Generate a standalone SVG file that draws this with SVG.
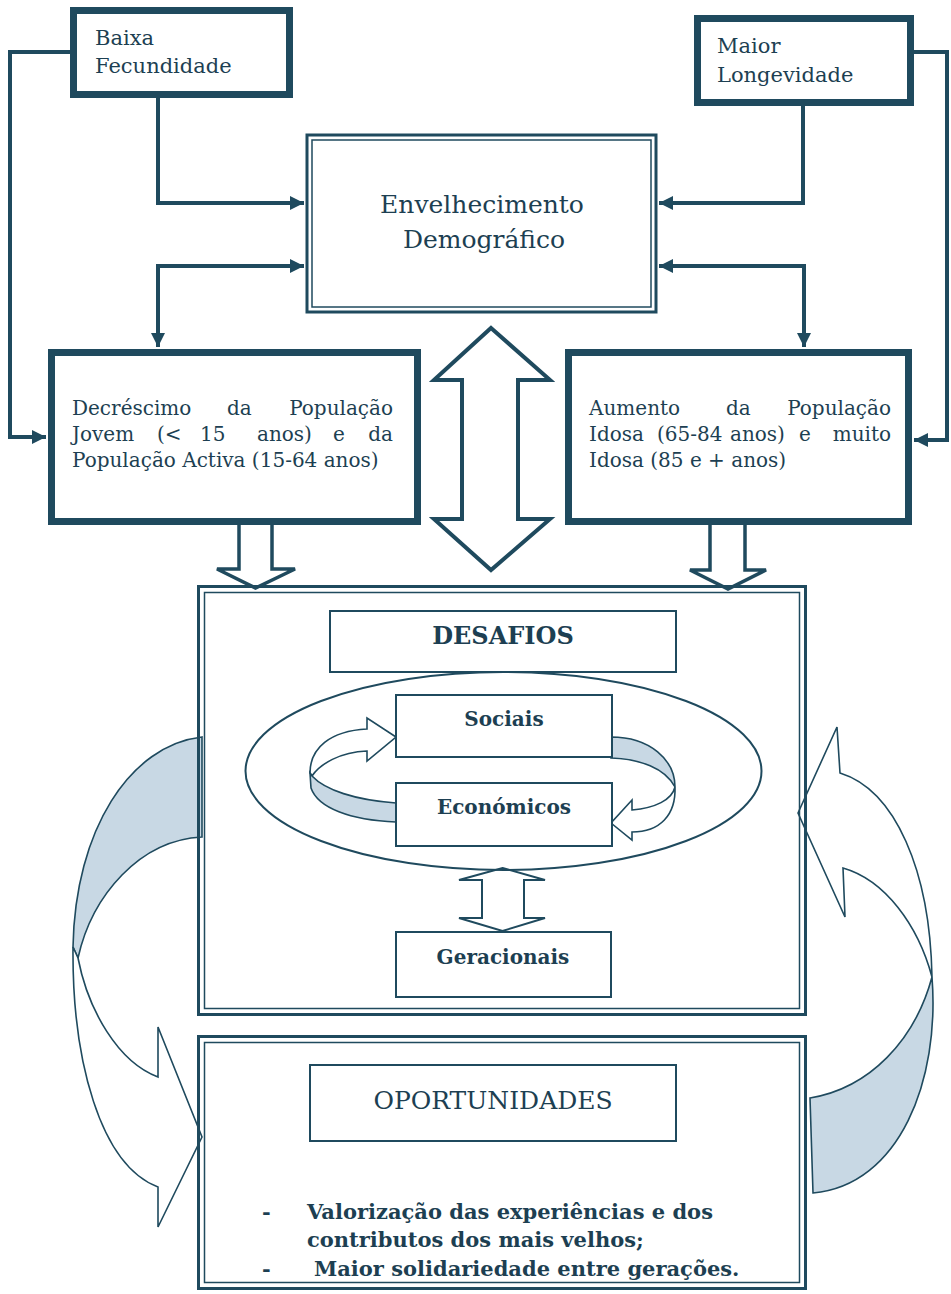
<svg xmlns="http://www.w3.org/2000/svg" width="951" height="1294" viewBox="0 0 951 1294">
<style>
.txt{font-family:'DejaVu Serif','Liberation Serif',serif;fill:#1d3f52;}
.reg{font-size:20px;}
.b{font-weight:bold;}
.thick{fill:#fff;stroke:#1f4a5e;stroke-width:7;}
.thin{fill:#fff;stroke:#1f4a5e;stroke-width:2;}
.dbl-o{fill:#fff;stroke:#1f4a5e;stroke-width:3;}
.dbl-i{fill:none;stroke:#1f4a5e;stroke-width:1.5;}
.con{fill:none;stroke:#1f4a5e;stroke-width:4;}
.hollow{fill:#fff;stroke:#1f4a5e;stroke-linejoin:miter;}
.shade{fill:#c8d8e4;stroke:#1f4a5e;stroke-width:1.6;}
.white{fill:#fff;stroke:#1f4a5e;stroke-width:1.6;}
</style>
<defs>
<marker id="ah" markerUnits="userSpaceOnUse" markerWidth="16" markerHeight="14" refX="14" refY="7" orient="auto-start-reverse">
<path d="M0,0 L14,7 L0,14 Z" fill="#1f4a5e"/>
</marker>
</defs>
<rect width="951" height="1294" fill="#fff"/>

<g id="connectors">
<path class="con" d="M70,52 H10 V437 H46" marker-end="url(#ah)"/>
<path class="con" d="M158,98 V203 H304" marker-end="url(#ah)"/>
<path class="con" d="M914,52 H947 V440 H914" marker-end="url(#ah)"/>
<path class="con" d="M803,106 V203 H659" marker-end="url(#ah)"/>
<path class="con" d="M304,266 H158 V347" marker-start="url(#ah)" marker-end="url(#ah)"/>
<path class="con" d="M659,266 H804 V347" marker-start="url(#ah)" marker-end="url(#ah)"/>
<path class="hollow" stroke-width="3.5" d="M239,522 V569 H217 L255.5,588 L295,569 H272 V522 Z"/>
<path class="hollow" stroke-width="3.5" d="M710,522 V570 H690 L728,589 L766,570 H745 V522 Z"/>
<path class="hollow" stroke-width="4" d="M491,328 L550,380 H518 V519 H550 L491,570 L434,519 H462 V380 H434 Z"/>
<path class="hollow" stroke-width="2" d="M502.5,868 L545,880 H524 V918 H545 L502.5,931 L459,918 H482 V880 H459 Z"/>
<path class="shade" d="M202,737 C130,745 75,830 73,947 L78,958 C92,895 140,840 202,837 Z"/>
<path class="white" d="M73,947 C72,1060 100,1165 158,1187 L158,1227 L202,1137 L158,1027 L158,1077 C118,1062 88,1010 78,958 Z"/>
<path class="white" d="M798,813 L837,727 L840,773 C895,790 930,870 932,977 C918,925 885,880 843,868 L845,917 Z"/>
<path class="shade" d="M932,977 C940,1080 900,1185 813,1193 L810,1098 C870,1088 915,1040 932,977 Z"/>
</g>

<g id="baixa">
<rect class="thick" x="73.5" y="10.5" width="216" height="84"/>
<text class="txt" font-size="21" x="95" y="45">Baixa</text>
<text class="txt" font-size="21" x="95" y="73">Fecundidade</text>
</g>

<g id="maior">
<rect class="thick" x="697.5" y="18.5" width="213" height="84"/>
<text class="txt" font-size="21" x="717" y="53">Maior</text>
<text class="txt" font-size="21" x="717" y="82">Longevidade</text>
</g>

<g id="envelhecimento">
<rect class="dbl-o" x="307" y="135" width="349" height="177" stroke-width="2.5"/>
<rect class="dbl-i" x="312" y="140" width="339" height="167" stroke-width="2"/>
<text class="txt" font-size="25" x="482" y="213" text-anchor="middle">Envelhecimento</text>
<text class="txt" font-size="25" x="484" y="248" text-anchor="middle">Demográfico</text>
</g>

<g id="decrescimo">
<rect class="thick" x="51.5" y="352.5" width="366" height="169"/>
<text class="txt reg" y="415"><tspan x="72">Decréscimo</tspan><tspan x="227">da</tspan><tspan x="393" text-anchor="end">População</tspan></text>
<text class="txt reg" y="441"><tspan x="72">Jovem</tspan><tspan x="157">(&lt;</tspan><tspan x="200">15</tspan><tspan x="257">anos)</tspan><tspan x="333">e</tspan></text>
<text class="txt reg" x="393" y="441" text-anchor="end">da</text>
<text class="txt reg" x="72" y="467">População Activa (15-64 anos)</text>
</g>

<g id="aumento">
<rect class="thick" x="568.5" y="352.5" width="340" height="169"/>
<text class="txt reg" y="415"><tspan x="589">Aumento</tspan><tspan x="726">da</tspan></text>
<text class="txt reg" x="891" y="415" text-anchor="end">População</text>
<text class="txt reg" y="441"><tspan x="589">Idosa</tspan><tspan x="657">(65-84</tspan><tspan x="730">anos)</tspan><tspan x="799">e</tspan></text>
<text class="txt reg" x="891" y="441" text-anchor="end">muito</text>
<text class="txt reg" x="589" y="467">Idosa (85 e + anos)</text>
</g>

<g id="desafios-frame">
<rect class="dbl-o" x="198.5" y="586.5" width="607" height="428" style="fill:none"/>
<rect class="dbl-i" x="204.5" y="592.5" width="595" height="416"/>
</g>

<g id="desafios">
<rect class="thin" x="330" y="611" width="346" height="61"/>
<text class="txt b" font-size="24" x="503" y="644" text-anchor="middle">DESAFIOS</text>
</g>

<g id="ellipse">
<ellipse cx="503.5" cy="771" rx="258" ry="99" fill="none" stroke="#1f4a5e" stroke-width="2"/>
</g>

<g id="cycle-arrows">
<path class="white" d="M396,737 L367,718 L367,729 C330,731 310,748 310,773 L312,776 C320,764 340,752 367,751 L367,761 Z"/>
<path class="shade" d="M310,773 L311,788 C318,808 350,820 396,822 L396,803 C355,800 325,790 312,776 Z"/>
<path class="shade" d="M611,737 C650,737 675,760 675,787 C665,768 640,759 611,758 Z"/>
<path class="white" d="M675,787 C676,815 660,832 632,832 L632,840 L611,823 L632,800 L632,810 C655,808 672,800 675,787 Z"/>
</g>

<g id="sociais">
<rect class="thin" x="396" y="695" width="216" height="62"/>
<text class="txt b" font-size="20" x="504" y="726" text-anchor="middle">Sociais</text>
</g>

<g id="economicos">
<rect class="thin" x="396" y="783" width="216" height="63"/>
<text class="txt b" font-size="20" x="504" y="814" text-anchor="middle">Económicos</text>
</g>

<g id="geracionais">
<rect class="thin" x="396" y="932" width="215" height="65"/>
<text class="txt b" font-size="20" x="503" y="964" text-anchor="middle">Geracionais</text>
</g>

<g id="oportunidades">
<rect class="dbl-o" x="198.5" y="1036.5" width="607" height="252" style="fill:none"/>
<rect class="dbl-i" x="204.5" y="1042.5" width="595" height="240"/>
<rect class="thin" x="310" y="1065" width="366" height="76"/>
<text class="txt" font-size="25" x="493" y="1109" text-anchor="middle">OPORTUNIDADES</text>
<text class="txt b" font-size="21" x="262" y="1219">-</text>
<text class="txt b" font-size="21" x="307" y="1219">Valorização das experiências e dos</text>
<text class="txt b" font-size="21" x="307" y="1247">contributos dos mais velhos;</text>
<text class="txt b" font-size="21" x="262" y="1276">-</text>
<text class="txt b" font-size="21" x="314" y="1276">Maior solidariedade entre gerações.</text>
</g>
</svg>
